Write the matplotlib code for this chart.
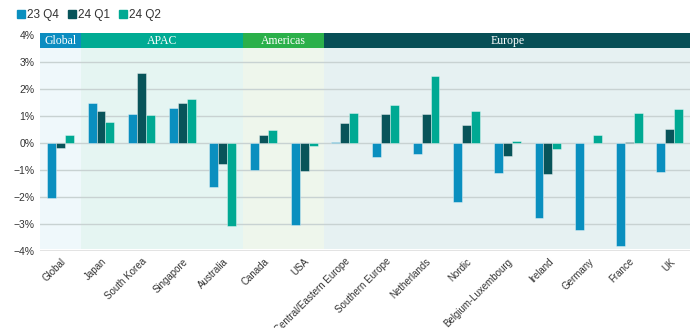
import matplotlib.pyplot as plt
from matplotlib.patches import Rectangle
from matplotlib.lines import Line2D
import numpy as np

plt.rcParams['font.family'] = ['Liberation Sans', 'DejaVu Sans']

# Data (%)
categories = ['Global', 'Japan', 'South Korea', 'Singapore', 'Australia', 'Canada', 'USA',
              'Central/Eastern Europe', 'Southern Europe', 'Netherlands', 'Nordic',
              'Belgium-Luxembourg', 'Ireland', 'Germany', 'France', 'UK']
q4_23 = [-2.05, 1.48, 1.07, 1.31, -1.64, -1.01, -3.04, 0.05, -0.52, -0.42, -2.20, -1.11, -2.79, -3.23, -3.83, -1.09]
q1_24 = [-0.18, 1.20, 2.59, 1.47, -0.79, 0.31, -1.04, 0.74, 1.06, 1.09, 0.68, -0.47, -1.15, 0.01, 0.02, 0.53]
q2_24 = [0.31, 0.78, 1.05, 1.63, -3.09, 0.49, -0.10, 1.11, 1.41, 2.49, 1.20, 0.06, -0.23, 0.30, 1.12, 1.25]
series_names = ['23 Q4', '24 Q1', '24 Q2']

regions = ['Global', 'APAC', 'Americas', 'Europe']
region_sizes = [1, 4, 2, 9]

# Styles
series_colors = ['#0a8fbf', '#08545a', '#00a993']
header_colors = ['#0c8dc0', '#00ab93', '#2bb04a', '#074f56']
tint_colors = ['#eff8fb', '#e5f5f2', '#eef6ec', '#e6f1f2']

fig = plt.figure(figsize=(6.95, 3.28), dpi=100)
ax = fig.add_axes([0.0576, 0.2348, 0.9354, 0.6585])

x = np.arange(len(categories))
width = 0.22

# region background + header bands
start = 0
for name, size, hc, tc in zip(regions, region_sizes, header_colors, tint_colors):
    ax.add_patch(Rectangle((start - 0.5, -3.93), size, 3.53 + 3.93, color=tc, zorder=0, lw=0))
    ax.add_patch(Rectangle((start - 0.5, 3.53), size, 0.53, color=hc, zorder=3, lw=0, clip_on=False))
    ax.text(start - 0.5 + size / 2, 3.78, name, ha='center', va='center', color='white',
            fontsize=8.5, family=['Liberation Serif', 'DejaVu Serif'], zorder=4)
    start += size

for v in range(-3, 4):
    ax.axhline(v, color='#c8d2d2', lw=1, zorder=1)
ax.axhline(-4, color='#e0e0e0', lw=2, zorder=1)

for i, (vals, col) in enumerate(zip([q4_23, q1_24, q2_24], series_colors)):
    ax.bar(x + (i - 1) * width, vals, width, color=col, edgecolor=(1, 1, 1, 0.45),
           lw=0.6, zorder=2)

ax.set_xlim(-0.5, len(categories) - 0.5)
ax.set_ylim(-4, 4)
ax.set_yticks(range(-4, 5))
ax.set_yticklabels([f'{v}%'.replace('-', '\u2212') for v in range(-4, 5)], fontsize=7.5, color='#333333')
ax.set_xticks(x)
ax.set_xticklabels(categories, rotation=45, ha='right', rotation_mode='anchor',
                   fontsize=7, color='#333333')
ax.tick_params(length=0, pad=4)
for s in ax.spines.values():
    s.set_visible(False)

handles = [Line2D([], [], marker='s', ls='', color=c, markersize=6) for c in series_colors]
fig.legend(handles, series_names, loc='upper left', bbox_to_anchor=(0.01, 1.005), ncol=3,
           frameon=False, fontsize=8.5, handlelength=0.6, handletextpad=0.2,
           columnspacing=0.8, labelcolor='#333333')

fig.savefig('out.png', dpi=100)
